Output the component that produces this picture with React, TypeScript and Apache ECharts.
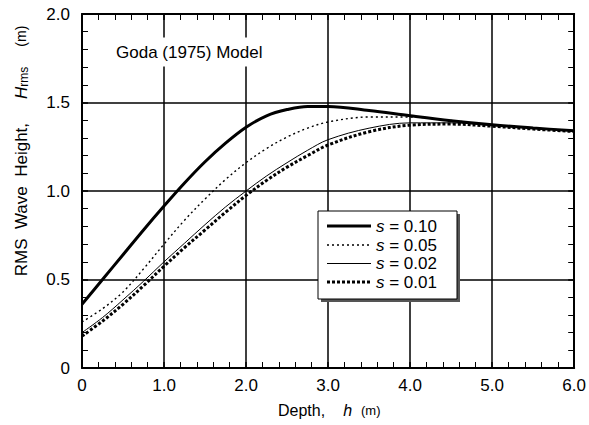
import React, { useEffect, useRef } from "react";
import * as echarts from "echarts";

// Water depth h (m) at which each RMS wave height is sampled
const depths = [0, 0.25, 0.5, 0.75, 1.0, 1.25, 1.5, 1.75, 2.0, 2.25, 2.5, 2.75, 3.0, 3.5, 4.0, 4.5, 5.0, 5.5, 6.0];

// H_rms (m) for each wave steepness s
const hS010 = [0.36, 0.5, 0.64, 0.78, 0.915, 1.045, 1.165, 1.27, 1.36, 1.425, 1.46, 1.478, 1.478, 1.455, 1.425, 1.397, 1.374, 1.356, 1.34];
const hS005 = [0.26, 0.335, 0.43, 0.56, 0.7, 0.835, 0.955, 1.065, 1.16, 1.24, 1.305, 1.355, 1.39, 1.418, 1.418, 1.398, 1.374, 1.356, 1.34];
const hS002 = [0.2, 0.285, 0.385, 0.49, 0.6, 0.705, 0.81, 0.91, 1.0, 1.085, 1.16, 1.23, 1.29, 1.355, 1.385, 1.385, 1.37, 1.355, 1.34];
const hS001 = [0.18, 0.265, 0.36, 0.465, 0.575, 0.68, 0.78, 0.88, 0.975, 1.06, 1.135, 1.2, 1.26, 1.335, 1.372, 1.378, 1.366, 1.35, 1.336];

const legendLabels = ["0.10", "0.05", "0.02", "0.01"];

const FONT = "'Liberation Sans', Arial, sans-serif";

const lineStyles = [
  { width: 3, type: "solid" as any },
  { width: 1.4, type: [2, 3] as any },
  { width: 1, type: "solid" as any },
  { width: 3, type: [3, 2] as any },
];

const seriesValues = [hS010, hS005, hS002, hS001];

const toPairs = (vals: number[]) => depths.map((d, i) => [d, vals[i]]);

const tickLabel = (v: number) => (v === 0 ? "0" : v.toFixed(1));

export default function App() {
  const ref = useRef<HTMLDivElement>(null);

  useEffect(() => {
    if (!ref.current) return;
    const chart = echarts.init(ref.current, null, { renderer: "svg" });

    const black = "#000";
    const baseAxis = {
      type: "value" as const,
      axisLine: { show: true, onZero: false, lineStyle: { color: black, width: 2 } },
      axisTick: { show: true, inside: true, length: 6, lineStyle: { color: black, width: 1.5 } },
      minorTick: { show: true, splitNumber: 5, length: 6, lineStyle: { color: black, width: 1 } },
    };

    // Legend box drawn by hand: drop shadow, frame, line samples and labels
    const legendRows = [226, 245, 263.5, 282];
    const legendGraphics: any[] = [
      { type: "rect", shape: { x: 321, y: 214, width: 139, height: 88 }, style: { fill: "#555" }, z: 20 },
      { type: "rect", shape: { x: 318, y: 211, width: 139, height: 88 }, style: { fill: "#fff", stroke: black, lineWidth: 1 }, z: 21 },
    ];
    legendLabels.forEach((lab, i) => {
      const ls = lineStyles[i];
      legendGraphics.push({
        type: "line",
        shape: { x1: 327, y1: legendRows[i], x2: 371, y2: legendRows[i] },
        style: { stroke: black, lineWidth: ls.width, lineDash: Array.isArray(ls.type) ? ls.type : null },
        z: 22,
      });
      legendGraphics.push({
        type: "text",
        x: 376,
        y: legendRows[i],
        style: {
          text: `{s|s} = ${lab}`,
          fontSize: 17,
          fontFamily: FONT,
          fill: black,
          textVerticalAlign: "middle",
          rich: { s: { fontStyle: "italic", fontSize: 17, fontFamily: FONT } },
        },
        z: 22,
      });
    });

    chart.setOption({
      animation: false,
      backgroundColor: "#fff",
      grid: { left: 82, right: 11, top: 14, bottom: 57 },
      xAxis: [
        {
          ...baseAxis,
          position: "bottom",
          min: 0,
          max: 6,
          interval: 1,
          splitLine: { show: true, lineStyle: { color: black, width: 1.5 } },
          axisLabel: { color: black, fontSize: 17, fontFamily: FONT, margin: 9, formatter: tickLabel },
        },
        {
          ...baseAxis,
          position: "top",
          min: 0,
          max: 6,
          interval: 1,
          splitLine: { show: false },
          axisLabel: { show: false },
        },
      ],
      yAxis: [
        {
          ...baseAxis,
          position: "left",
          min: 0,
          max: 2,
          interval: 0.5,
          splitLine: { show: true, lineStyle: { color: black, width: 1.5 } },
          axisLabel: { color: black, fontSize: 17, fontFamily: FONT, margin: 12, formatter: tickLabel },
        },
        {
          ...baseAxis,
          position: "right",
          min: 0,
          max: 2,
          interval: 0.5,
          splitLine: { show: false },
          axisLabel: { show: false },
        },
      ],
      series: seriesValues.map((vals, i) => ({
        type: "line",
        name: `s = ${legendLabels[i]}`,
        data: toPairs(vals),
        smooth: 0.35,
        showSymbol: false,
        symbol: "none",
        z: 10 - i,
        lineStyle: { color: black, width: lineStyles[i].width, type: lineStyles[i].type, cap: "butt" },
      })),
      graphic: [
        {
          type: "text",
          x: 114,
          y: 52,
          z: 15,
          style: {
            text: "Goda (1975) Model",
            fontSize: 17,
            fontFamily: FONT,
            fill: black,
            textVerticalAlign: "middle",
            backgroundColor: "#fff",
            padding: [6, 2],
          },
        },
        {
          type: "text",
          x: 278,
          y: 410,
          z: 15,
          style: {
            text: "Depth,{i|h}{m|(m)}",
            fontSize: 16,
            fontFamily: FONT,
            fill: black,
            textVerticalAlign: "middle",
            rich: {
              i: { fontStyle: "italic", fontSize: 16, fontFamily: FONT, padding: [0, 0, 0, 18] },
              m: { fontSize: 13, fontFamily: FONT, padding: [0, 0, 0, 9] },
            },
          },
        },
        {
          type: "text",
          x: 21,
          y: 151,
          rotation: Math.PI / 2,
          z: 15,
          style: {
            text: "RMS  Wave  Height,{i|H}{r|rms}{m|(m)}",
            fontSize: 17,
            fontFamily: FONT,
            fill: black,
            textAlign: "center",
            textVerticalAlign: "middle",
            rich: {
              i: { fontStyle: "italic", fontSize: 17, fontFamily: FONT, padding: [0, 0, 0, 24] },
              r: { fontSize: 12, fontFamily: FONT, verticalAlign: "bottom" },
              m: { fontSize: 14, fontFamily: FONT, padding: [0, 0, 0, 20] },
            },
          },
        },
        ...legendGraphics,
      ],
    });

    return () => chart.dispose();
  }, []);

  return <div ref={ref} style={{ width: 589, height: 425, position: "absolute", left: 0, top: 0 }} />;
}
